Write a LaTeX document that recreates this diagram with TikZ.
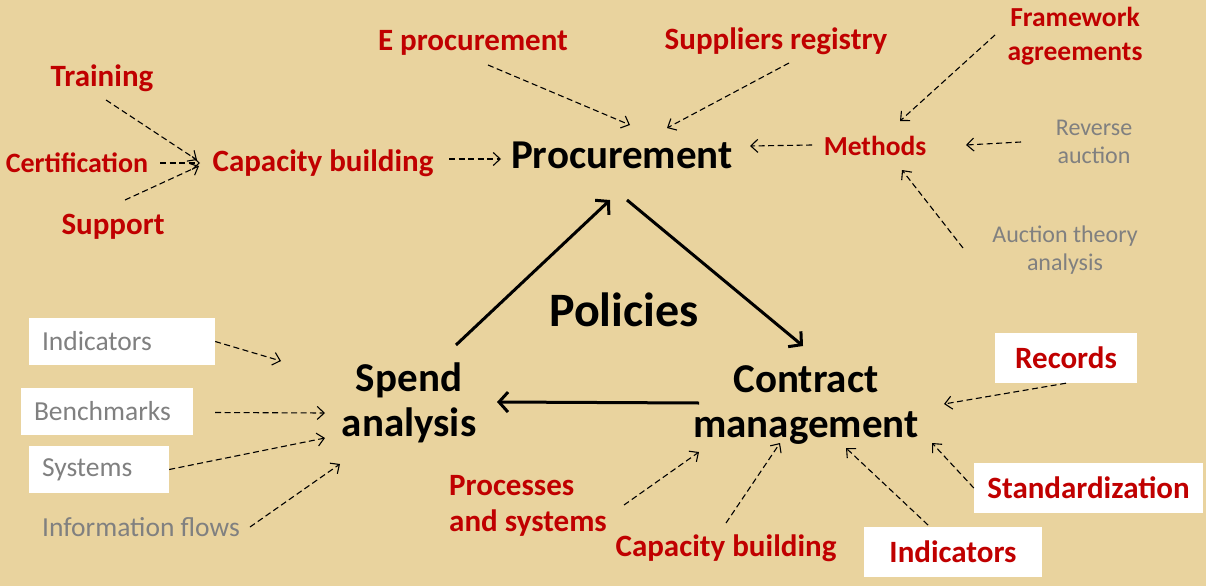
\documentclass[tikz,border=0pt]{standalone}
\usepackage{fontspec}
\setmainfont{Carlito}
\usetikzlibrary{arrows.meta}
\definecolor{bg}{RGB}{233,211,158}
\definecolor{redlab}{RGB}{192,0,0}
\definecolor{graylab}{RGB}{128,128,128}
\tikzset{
 redl/.style={text=redlab, font=\bfseries\fontsize{31}{36}\selectfont, inner sep=0pt, align=center},
 grayl/.style={text=graylab, font=\fontsize{24}{28}\selectfont, inner sep=0pt, align=center},
 grayb/.style={text=graylab, font=\fontsize{27.5}{32}\selectfont, inner sep=0pt, align=left},
 mainl/.style={text=black, font=\bfseries\fontsize{41}{45}\selectfont, inner sep=0pt, align=center},
 wbox/.style={fill=white, inner ysep=0pt, inner xsep=13pt, minimum height=47pt},
 dar/.style={draw=black, dash pattern=on 6pt off 3.5pt, line width=1.1pt, -{Straight Barb[length=7pt,width=13pt]}},
 sar/.style={draw=black, line width=3pt, -{Straight Barb[length=9pt,width=20pt]}}
}
\begin{document}
\begin{tikzpicture}[x=1pt,y=-1pt]
\fill[bg] (0,0) rectangle (1206,586);
\useasboundingbox (0,0) rectangle (1206,586);
% top-left cluster
\node[redl] (T) at (102,78) {Training};
\node[redl, font=\bfseries\fontsize{28}{33}\selectfont] (C) at (77,163) {Certification};
\node[redl] (S) at (113,227) {Support};
\node[redl] (CB) at (323,163) {Capacity building};
\node[redl] (E) at (473,43) {E procurement};
\node[redl] (SR) at (776,41) {Suppliers registry};
\node[redl, font=\bfseries\fontsize{27.5}{34}\selectfont] (FA) at (1075,36) {Framework\\agreements};
\node[mainl] (P) at (622,155) {Procurement};
\node[redl, font=\bfseries\fontsize{27.5}{32}\selectfont] (M) at (875,146) {Methods};
\node[grayl] (RA) at (1094,142) {Reverse\\auction};
\node[grayl] (AT) at (1065,250) {Auction theory\\analysis};
\node[mainl, font=\bfseries\fontsize{48}{52}\selectfont] (Pol) at (624,310) {Policies};
\node[mainl] (SA) at (409,403) {Spend\\analysis};
\node[mainl] (CM) at (806,405) {Contract\\management};
% left boxes
\node[grayb, wbox, text width=160pt] (IL) at (122,341.5) {Indicators};
\node[grayb, wbox, text width=146pt] (BM) at (107,411.5) {Benchmarks};
\node[grayb, wbox, text width=114pt] (SY) at (99,469.5) {Systems};
\node[grayb] (IF) at (141,527) {Information flows};
% bottom
\node[redl, align=left] (PS) at (528,506) {Processes\\and systems};
\node[redl] (CB2) at (726,548) {Capacity building};
\node[redl, wbox, minimum width=178pt, minimum height=50pt] (IR) at (953,552) {Indicators};
\node[redl, wbox, minimum width=142pt, minimum height=50pt] (RC) at (1066,358) {Records};
\node[redl, wbox, minimum width=229pt, minimum height=50pt] (ST) at (1088.5,488) {Standardization};
% dashed arrows
\draw[dar] ([shift={(4,22)}]T.center) -- ([shift={(-126,-3)}]CB.center);
\draw[dar] ([shift={(83,0)}]C.center) -- ([shift={(-123,0)}]CB.center);
\draw[dar] ([shift={(12,-27)}]S.center) -- ([shift={(-124,3)}]CB.center);
\draw[dar] ([shift={(126,-4)}]CB.center) -- ([shift={(-121,4)}]P.center);
\draw[dar] ([shift={(15,22)}]E.center) -- ([shift={(8,-30)}]P.center);
\draw[dar] ([shift={(13,22)}]SR.center) -- ([shift={(45,-27)}]P.center);
\draw[dar] ([shift={(-63,-1)}]M.center) -- ([shift={(128,-9)}]P.center);
\draw[dar] ([shift={(-80,-1)}]FA.center) -- ([shift={(25,-25)}]M.center);
\draw[dar] ([shift={(-73,0)}]RA.center) -- ([shift={(91,-1)}]M.center);
\draw[dar] ([shift={(-102,-2)}]AT.center) -- ([shift={(27,24)}]M.center);
\draw[dar] (IL.east) -- ([shift={(-128,-42)}]SA.center);
\draw[dar] ([shift={(108,1)}]BM.center) -- ([shift={(-84,10)}]SA.center);
\draw[dar] (SY.east) -- ([shift={(-84,35)}]SA.center);
\draw[dar] ([shift={(109,0)}]IF.center) -- ([shift={(-69,61)}]SA.center);
\draw[dar] ([shift={(96,-1)}]PS.center) -- ([shift={(-107,47)}]CM.center);
\draw[dar] ([shift={(0,-25)}]CB2.center) -- ([shift={(-26,38)}]CM.center);
\draw[dar] ([shift={(-25,-27)}]IR.center) -- ([shift={(40,43)}]CM.center);
\draw[dar] (ST.west) -- ([shift={(126,38)}]CM.center);
\draw[dar] (RC.south) -- ([shift={(138,-1)}]CM.center);
% solid arrows
\draw[sar] ([shift={(47,-58)}]SA.center) -- ([shift={(-12,45)}]P.center);
\draw[sar] ([shift={(5,45)}]P.center) -- ([shift={(-3,-59)}]CM.center);
\draw[sar] ([shift={(-107,-2)}]CM.center) -- ([shift={(88,-1)}]SA.center);
\end{tikzpicture}
\end{document}
